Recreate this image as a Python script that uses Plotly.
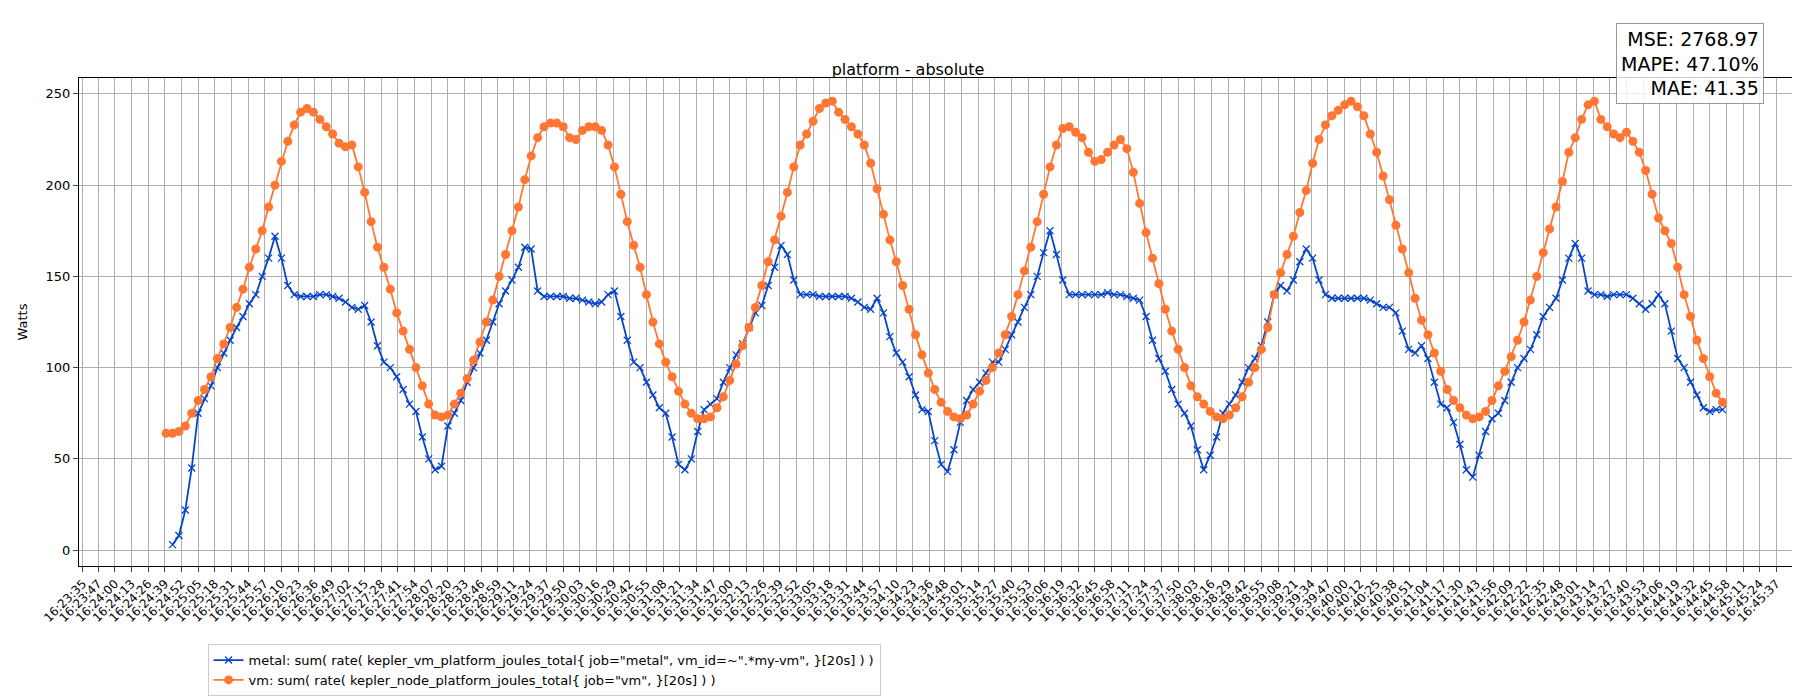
import numpy as np
import pandas as pd
import plotly.graph_objects as go

# samples every 5 s starting 16:24:40
start = "2024-01-01 16:24:40"

vm = [64, 64, 65, 68, 75, 82, 88, 95, 105, 113, 122, 133,
      143, 155, 165, 175, 188, 200, 213, 224, 233, 240, 242, 240,
      236, 232, 228, 223, 221, 222, 210, 196, 180, 166, 155, 143,
      130, 120, 110, 100, 90, 80, 74, 73, 74, 80, 86, 94,
      104, 114, 125, 137, 150, 162, 175, 188, 203, 216, 226, 232,
      234, 234, 232, 226, 225, 230, 232, 232, 230, 222, 210, 195,
      180, 167, 155, 140, 125, 113, 103, 95, 87, 80, 75, 72,
      72, 73, 78, 84, 93, 102, 112, 122, 133, 145, 158, 170,
      183, 196, 210, 222, 228, 235, 242, 245, 246, 240, 236, 232,
      228, 222, 212, 198, 184, 170, 158, 145, 132, 118, 107, 97,
      88, 81, 76, 73, 72, 74, 80, 87, 93, 100, 108, 118,
      128, 140, 153, 166, 180, 195, 210, 222, 231, 232, 229, 226,
      218, 213, 214, 218, 222, 225, 220, 207, 190, 174, 160, 146,
      132, 120, 110, 100, 90, 84, 80, 76, 73, 72, 74, 78,
      84, 92, 100, 110, 122, 140, 152, 162, 172, 185, 197, 212,
      225, 233, 238, 241, 244, 246, 243, 238, 228, 218, 205, 192,
      178, 165, 152, 138, 126, 118, 108, 98, 88, 82, 78, 74,
      72, 73, 76, 82, 90, 98, 106, 115, 125, 137, 150, 163,
      176, 188, 202, 218, 226, 236, 244, 246, 236, 232, 228, 226,
      229, 224, 218, 208, 195, 182, 175, 168, 155, 140, 128, 115,
      105, 95, 86, 81]

metal = [None, 3, 8, 22, 45, 75, 83, 90, 100, 108, 115, 122,
         128, 135, 140, 150, 160, 172, 160, 145, 140, 139, 139, 139,
         140, 140, 139, 138, 136, 133, 132, 134, 125, 112, 103, 100,
         95, 88, 80, 76, 62, 50, 44, 46, 68, 75, 82, 92,
         100, 108, 115, 125, 135, 142, 148, 155, 166, 165, 142, 139,
         139, 139, 139, 138, 138, 137, 136, 135, 136, 140, 142, 128,
         115, 103, 100, 92, 85, 78, 75, 62, 47, 44, 50, 65,
         77, 80, 83, 92, 100, 107, 113, 122, 130, 134, 145, 155,
         167, 162, 148, 140, 140, 140, 139, 139, 139, 139, 139, 138,
         136, 133, 132, 138, 130, 117, 108, 103, 95, 85, 77, 76,
         60, 47, 43, 55, 70, 82, 88, 92, 97, 103, 103, 110,
         118, 125, 133, 140, 150, 163, 175, 162, 148, 140, 140, 140,
         140, 140, 140, 141, 140, 140, 139, 138, 137, 128, 115, 105,
         98, 88, 80, 75, 68, 55, 44, 52, 62, 75, 80, 85,
         92, 100, 105, 112, 125, 140, 145, 142, 148, 158, 165, 160,
         148, 140, 138, 138, 138, 138, 138, 138, 137, 135, 133, 133,
         130, 120, 110, 108, 112, 105, 92, 80, 78, 70, 58, 44,
         40, 52, 65, 72, 75, 82, 92, 100, 105, 110, 118, 128,
         133, 138, 148, 160, 168, 160, 142, 140, 140, 139, 140, 140,
         140, 138, 135, 132, 135, 140, 135, 120, 105, 100, 92, 85,
         78, 76, 77, 77]

times = pd.date_range(start, periods=len(vm), freq="5s")

# x tick positions used by the original plot (103 evenly spaced)
t0 = pd.Timestamp("2024-01-01 16:23:35")
t1 = pd.Timestamp("2024-01-01 16:45:37")
tick_vals = [t0 + (t1 - t0) * f for f in np.linspace(0, 1, 103)]
tick_text = [t.round("1s").strftime("%H:%M:%S") for t in tick_vals]

fig = go.Figure()
fig.add_trace(go.Scatter(
    x=times, y=metal, mode="lines+markers",
    name='metal: sum( rate( kepler_vm_platform_joules_total{ job="metal", vm_id=~".*my-vm", }[20s] ) )',
    line=dict(color="#0645c8", width=1.8),
    marker=dict(symbol="x-thin", size=7, line=dict(color="#0645c8", width=1.3)),
))
fig.add_trace(go.Scatter(
    x=times, y=vm, mode="lines+markers",
    name='vm: sum( rate( kepler_node_platform_joules_total{ job="vm", }[20s] ) )',
    line=dict(color="#ff7733", width=1.8),
    marker=dict(symbol="circle", size=9, color="#ff7733"),
))

fig.update_layout(
    width=1800, height=700,
    margin=dict(l=71, r=15, t=70, b=140),
    plot_bgcolor="white", paper_bgcolor="white",
    font=dict(family="DejaVu Sans", size=13, color="black"),
    title=dict(text="platform - absolute", x=0.5, xanchor="center", y=0.905, yanchor="bottom",
               font=dict(size=16)),
    legend=dict(x=0.075, y=-0.16, xanchor="left", yanchor="top",
                bordercolor="#cccccc", borderwidth=1, font=dict(size=13)),
    annotations=[dict(
        text="MSE: 2768.97<br>MAPE: 47.10%<br>MAE: 41.35", align="right",
        xref="paper", yref="paper", x=0.983, y=1.112, xanchor="right", yanchor="top",
        showarrow=False, font=dict(size=19), bordercolor="#999999", borderwidth=1,
        borderpad=4, bgcolor="rgba(255,255,255,0.8)",
    )],
)
fig.update_xaxes(
    range=[pd.Timestamp("2024-01-01 16:23:32"), pd.Timestamp("2024-01-01 16:45:50")],
    tickvals=tick_vals, ticktext=tick_text, tickangle=-45,
    showgrid=True, gridcolor="#b0b0b0", gridwidth=1,
    showline=True, linecolor="black", mirror=True, ticks="outside",
    tickfont=dict(size=12),
)
fig.update_yaxes(
    range=[-8.7, 258.7], tickvals=[0, 50, 100, 150, 200, 250],
    title=dict(text="Watts", font=dict(size=13)),
    showgrid=True, gridcolor="#b0b0b0", gridwidth=1, zeroline=False,
    showline=True, linecolor="black", mirror=True, ticks="outside",
)

fig.write_html("out.html")
